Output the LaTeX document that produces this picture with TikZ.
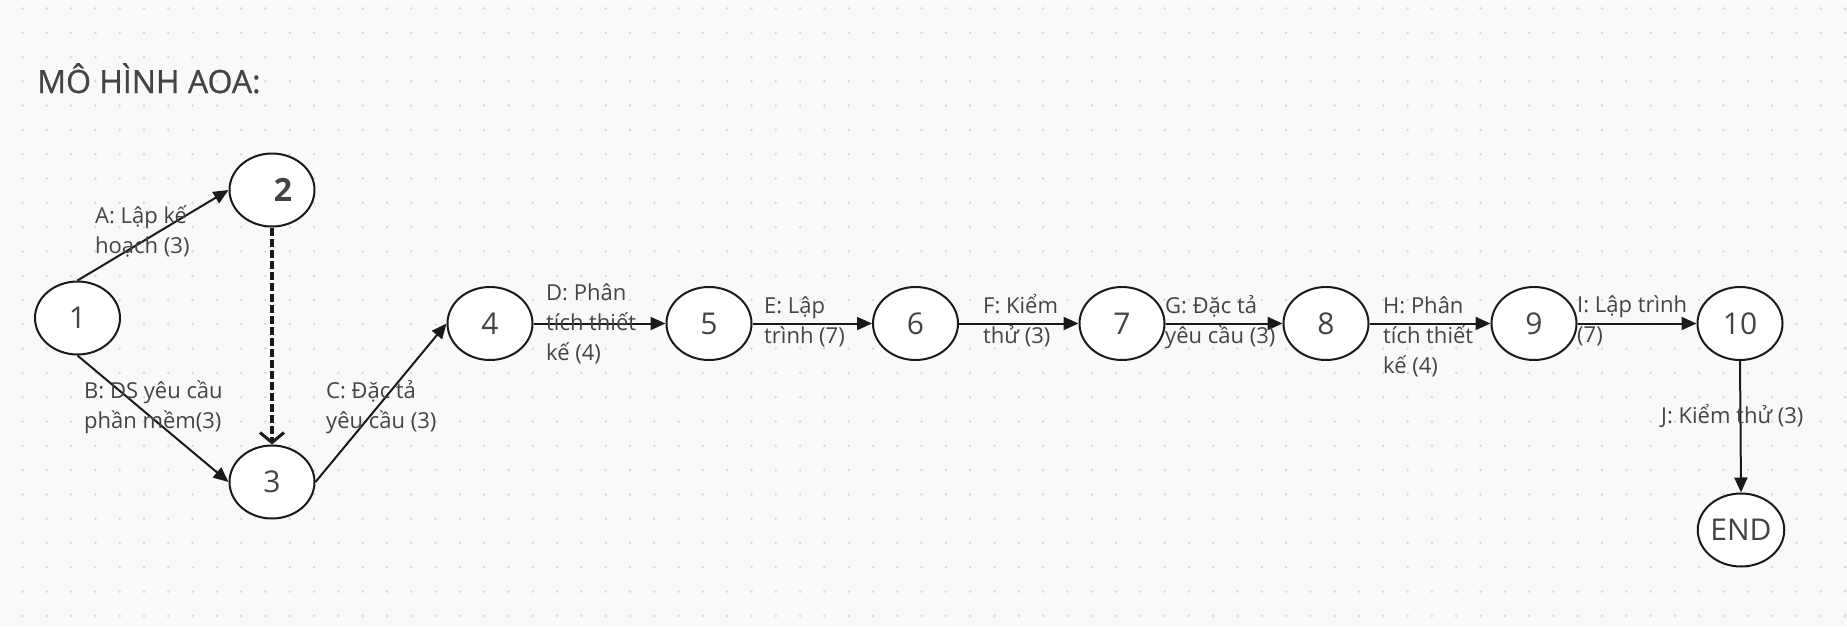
\documentclass[tikz,border=0pt]{standalone}
\usepackage{fontspec}
\setmainfont{Open Sans}
\usetikzlibrary{arrows.meta,shapes.geometric}
\definecolor{bgc}{HTML}{F9F9FB}
\definecolor{dotc}{HTML}{D9D9DE}
\definecolor{txt}{HTML}{444444}
\definecolor{edgec}{HTML}{1A1A1A}
\tikzset{
  ev/.style={ellipse, draw=edgec, fill=white, line width=2pt, minimum width=85pt, minimum height=73pt, inner sep=0pt, text=txt, font=\fontsize{30}{34}\selectfont},
  lbl/.style={anchor=base west, inner sep=0pt, align=left, text=txt, font=\fontsize{22}{30}\selectfont},
  arr/.style={draw=edgec, line width=2pt, -{Triangle[length=15pt,width=13pt]}},
  dummy/.style={draw=edgec, line width=3.5pt, dash pattern=on 8pt off 3pt, -{Straight Barb[length=10pt,width=24pt,line width=3pt]}}
}
\begin{document}
\begin{tikzpicture}[x=1pt,y=-1pt]
\useasboundingbox (0,0) rectangle (1847,627);
\fill[bgc] (0,0) rectangle (1847,627);
\foreach \i in {0,...,75} {
  \foreach \j in {0,...,25} {
    \fill[dotc] ({22.5+24.3*\i},{8.4+24.3*\j}) circle (1.4pt);
  }
}
\node[anchor=base west, inner sep=0pt, text=txt, font=\fontsize{32}{36}\selectfont\addfontfeatures{FakeBold=0.8}] (title) at (37,93) {MÔ HÌNH AOA:};
% nodes
\node[ev] (n1) at (77.5,318) {1};
\node[ev] (n2) at (272,190) {};
\node[text=txt, font=\fontsize{32}{34}\selectfont\bfseries, inner sep=0pt] (t2) at (283,190) {2};
\node[ev] (n3) at (272,482) {3};
\node[ev] (n4) at (490,323.5) {4};
\node[ev] (n5) at (709,323.5) {5};
\node[ev] (n6) at (915.5,323.5) {6};
\node[ev] (n7) at (1122,323.5) {7};
\node[ev] (n8) at (1326,323.5) {8};
\node[ev] (n9) at (1534,323.5) {9};
\node[ev] (n10) at (1740,323.5) {10};
\node[ev] (nend) at (1741,530) {END};
% edges
\draw[arr] (n1.north) -- (n2.west);
\draw[arr] (n1.south) -- (n3.west);
\draw[dummy] (n2.south) -- (n3.north);
\draw[arr] (n3.east) -- (n4.west);
\draw[arr] (n4.east) -- (n5.west);
\draw[arr] (n5.east) -- (n6.west);
\draw[arr] (n6.east) -- (n7.west);
\draw[arr] (n7.east) -- (n8.west);
\draw[arr] (n8.east) -- (n9.west);
\draw[arr] (n9.east) -- (n10.west);
\draw[arr] (n10.south) -- (nend.north);
% labels (anchor at the baseline of the last line)
\node[lbl] (la) at (95,253) {A: Lập kế\\hoạch (3)};
\node[lbl] (lb) at (84,428) {B: DS yêu cầu\\phần mềm(3)};
\node[lbl] (lc) at (326,428) {C: Đặc tả\\yêu cầu (3)};
\node[lbl] (ld) at (546,360) {D: Phân\\tích thiết\\kế (4)};
\node[lbl] (le) at (764,343) {E: Lập\\trình (7)};
\node[lbl] (lf) at (983,343) {F: Kiểm\\thử (3)};
\node[lbl] (lg) at (1165,343) {G: Đặc tả\\yêu cầu (3)};
\node[lbl] (lh) at (1383,373) {H: Phân\\tích thiết\\kế (4)};
\node[lbl] (li) at (1577,342) {I: Lập trình\\(7)};
\node[lbl] (lj) at (1661,423) {J: Kiểm thử (3)};
\end{tikzpicture}
\end{document}
